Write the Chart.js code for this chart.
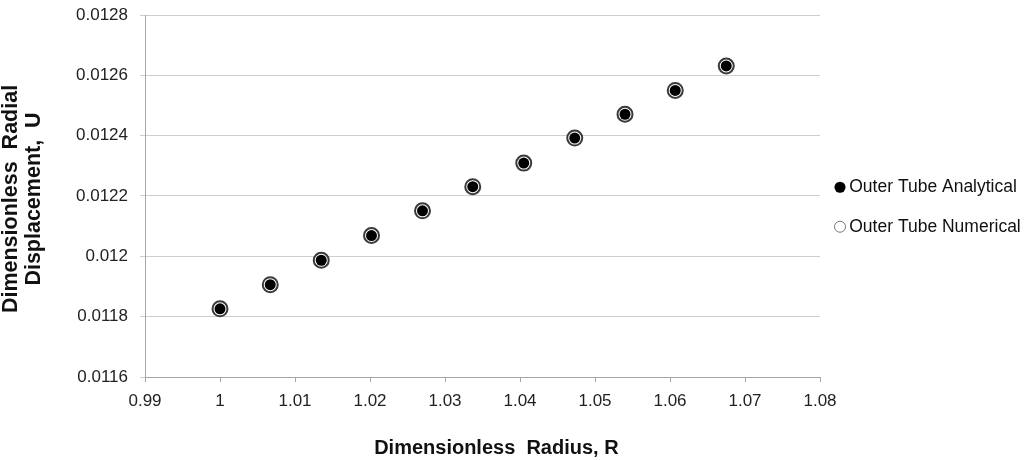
<!DOCTYPE html>
<html lang="en">
<head>
    <meta charset="UTF-8">
    <title>Outer Tube Radial Displacement</title>
    <script src="https://cdn.jsdelivr.net/npm/chart.js"></script>
    <style>
        body {
            margin: 0;
            background: #ffffff;
        }

        #chart-container {
            width: 1027px;
            height: 460px;
        }
    </style>
</head>
<body>

    <div id="chart-container">
        <canvas id="radialChart" width="1027" height="460"></canvas>
    </div>

    <script>
        // Dimensionless radius R
        const radius = [1.0, 1.0067, 1.0135, 1.0202, 1.027, 1.0337, 1.0405, 1.0473, 1.054, 1.0607, 1.0675];

        // Dimensionless radial displacement U
        const analyticalU = [0.011826, 0.011906, 0.011987, 0.012069, 0.012151, 0.012231, 0.012309, 0.012392, 0.012471, 0.01255, 0.012631];
        const numericalU = [0.011826, 0.011906, 0.011987, 0.012069, 0.012151, 0.012231, 0.012309, 0.012392, 0.012471, 0.01255, 0.012631];

        // Axis ticks
        const xTicks = [0.99, 1, 1.01, 1.02, 1.03, 1.04, 1.05, 1.06, 1.07, 1.08];
        const xTickLabels = ['0.99', '1', '1.01', '1.02', '1.03', '1.04', '1.05', '1.06', '1.07', '1.08'];
        const yTicks = [0.0116, 0.0118, 0.012, 0.0122, 0.0124, 0.0126, 0.0128];
        const yTickLabels = ['0.0116', '0.0118', '0.012', '0.0122', '0.0124', '0.0126', '0.0128'];

        const toPoints = (xs, ys) => xs.map((x, i) => ({ x: x, y: ys[i] }));

        const FONT = "'Liberation Sans', Arial, sans-serif";
        const AXIS_GREY = '#a6a6a6';

        // fixed legend width, nudged into place
        const legendLayout = {
            id: 'legendLayout',
            beforeLayout(chart) {
                const lg = chart.legend;
                if (lg && !lg._fixedWidth) {
                    const fit = lg.fit.bind(lg);
                    lg.fit = function () {
                        fit();
                        this.width = 207;
                    };
                    lg._fixedWidth = true;
                }
            },
            afterLayout(chart) {
                const lg = chart.legend;
                lg.left -= 2.5;
                lg.right -= 2.5;
                lg.top += 11;
                lg.bottom += 11;
            }
        };

        const ctx = document.getElementById('radialChart').getContext('2d');
        new Chart(ctx, {
            type: 'scatter',
            data: {
                datasets: [{
                    label: 'Outer Tube Analytical',
                    data: toPoints(radius, analyticalU),
                    pointStyle: 'circle',
                    pointRadius: 5.5,
                    backgroundColor: '#000000',
                    borderColor: '#000000',
                    borderWidth: 0
                }, {
                    label: 'Outer Tube Numerical',
                    data: toPoints(radius, numericalU),
                    pointStyle: 'circle',
                    pointRadius: 7.5,
                    backgroundColor: '#ffffff',
                    borderColor: '#3a3a3a',
                    borderWidth: 2
                }]
            },
            options: {
                responsive: false,
                animation: false,
                layout: {
                    autoPadding: false,
                    padding: { top: 15, left: 0, right: 0, bottom: 0 }
                },
                plugins: {
                    tooltip: { enabled: false },
                    legend: {
                        position: 'right',
                        fullSize: false,
                        labels: {
                            usePointStyle: true,
                            boxWidth: 1,
                            boxHeight: 7.8,
                            padding: 22,
                            color: '#111111',
                            font: { family: FONT, size: 17.5 },
                            generateLabels(chart) {
                                const items = Chart.defaults.plugins.legend.labels.generateLabels(chart);
                                items.forEach((item, i) => {
                                    if (i === 0) {
                                        item.lineWidth = 0;
                                    } else {
                                        item.lineWidth = 1;
                                        item.strokeStyle = '#777777';
                                    }
                                });
                                return items;
                            }
                        }
                    }
                },
                scales: {
                    x: {
                        type: 'linear',
                        min: 0.99,
                        max: 1.08,
                        afterFit: scale => {
                            scale.height = 83;
                            scale.paddingLeft = 0;
                            scale.paddingRight = 0;
                        },
                        afterBuildTicks: scale => {
                            scale.ticks = xTicks.map(v => ({ value: v }));
                        },
                        ticks: {
                            padding: 9,
                            color: '#222222',
                            font: { family: FONT, size: 17 },
                            callback: (value, index) => xTickLabels[index]
                        },
                        grid: {
                            drawOnChartArea: false,
                            drawTicks: true,
                            tickLength: 5,
                            color: AXIS_GREY
                        },
                        border: { display: true, color: AXIS_GREY, width: 1 },
                        title: {
                            display: true,
                            text: '     Dimensionless  Radius, R',
                            color: '#111111',
                            font: { family: FONT, size: 20, weight: 'bold' },
                            padding: { top: 0, bottom: 0 }
                        }
                    },
                    y: {
                        type: 'linear',
                        min: 0.0116,
                        max: 0.0128,
                        afterFit: scale => {
                            scale.width = 145;
                            scale.paddingTop = 0;
                            scale.paddingBottom = 0;
                        },
                        afterBuildTicks: scale => {
                            scale.ticks = yTicks.map(v => ({ value: v }));
                        },
                        ticks: {
                            padding: 12,
                            color: '#222222',
                            font: { family: FONT, size: 17 },
                            callback: (value, index) => yTickLabels[index]
                        },
                        grid: {
                            drawTicks: true,
                            tickLength: 5,
                            color: '#cfcfcf'
                        },
                        border: { display: true, color: AXIS_GREY, width: 1 },
                        title: {
                            display: true,
                            text: ['Dimensionless  Radial ', 'Displacement,  U '],
                            color: '#111111',
                            font: { family: FONT, size: 21.5, weight: 'bold', lineHeight: 1.07 },
                            padding: { top: 0, bottom: 0 }
                        }
                    }
                }
            },
            plugins: [legendLayout]
        });
    </script>
</body>
</html>
